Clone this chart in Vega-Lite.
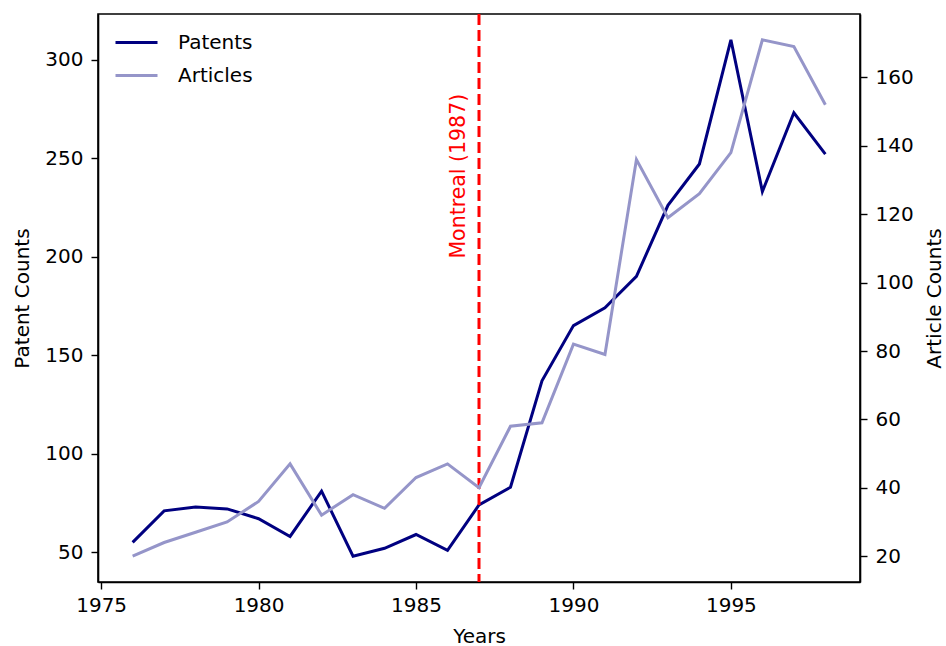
{
  "$schema": "https://vega.github.io/schema/vega-lite/v6.json",
  "width": 762,
  "height": 568,
  "autosize": {"type": "none"},
  "padding": {"left": 98, "top": 14, "right": 86, "bottom": 64},
  "background": "white",
  "config": {
    "view": {"stroke": "black", "strokeWidth": 1.6},
    "font": "DejaVu Sans",
    "axis": {
      "grid": false,
      "domainColor": "black",
      "domainWidth": 1.6,
      "tickColor": "black",
      "tickWidth": 1.4,
      "tickSize": 7,
      "labelColor": "black",
      "titleColor": "black",
      "labelFontSize": 20,
      "titleFontSize": 20,
      "titleFontWeight": "normal",
      "labelFont": "DejaVu Sans",
      "titleFont": "DejaVu Sans"
    }
  },
  "datasets": {
    "series": [
      {"year": 1976, "patents": 55, "articles": 20},
      {"year": 1977, "patents": 71, "articles": 24},
      {"year": 1978, "patents": 73, "articles": 27},
      {"year": 1979, "patents": 72, "articles": 30},
      {"year": 1980, "patents": 67, "articles": 36},
      {"year": 1981, "patents": 58, "articles": 47},
      {"year": 1982, "patents": 81, "articles": 32},
      {"year": 1983, "patents": 48, "articles": 38},
      {"year": 1984, "patents": 52, "articles": 34},
      {"year": 1985, "patents": 59, "articles": 43},
      {"year": 1986, "patents": 51, "articles": 47},
      {"year": 1987, "patents": 74, "articles": 40},
      {"year": 1988, "patents": 83, "articles": 58},
      {"year": 1989, "patents": 137, "articles": 59},
      {"year": 1990, "patents": 165, "articles": 82},
      {"year": 1991, "patents": 174, "articles": 79},
      {"year": 1992, "patents": 190, "articles": 136},
      {"year": 1993, "patents": 226, "articles": 119},
      {"year": 1994, "patents": 247, "articles": 126},
      {"year": 1995, "patents": 310, "articles": 138},
      {"year": 1996, "patents": 233, "articles": 171},
      {"year": 1997, "patents": 273, "articles": 169},
      {"year": 1998, "patents": 252, "articles": 152}
    ],
    "event": [{"year": 1987, "label": "Montreal (1987)", "pos": 199}]
  },
  "encoding": {
    "x": {
      "field": "year",
      "type": "quantitative",
      "scale": {"domain": [1974.9, 1999.1], "nice": false, "zero": false},
      "axis": {"title": "Years", "values": [1975, 1980, 1985, 1990, 1995], "format": "d", "labelPadding": 6, "titlePadding": 11}
    }
  },
  "layer": [
    {
      "layer": [
        {
          "data": {"name": "series"},
          "mark": {"type": "line", "strokeWidth": 3, "clip": true},
          "encoding": {
            "y": {
              "field": "patents",
              "type": "quantitative",
              "scale": {"domain": [34.9, 323.1], "nice": false, "zero": false},
              "axis": {"title": "Patent Counts", "orient": "left", "values": [50, 100, 150, 200, 250, 300], "labelPadding": 8, "titlePadding": 12}
            },
            "color": {
              "datum": "Patents",
              "type": "nominal",
              "scale": {"domain": ["Patents", "Articles"], "range": ["#000080", "#9595c9"]},
              "legend": {
                "title": null,
                "orient": "none",
                "legendX": 16,
                "legendY": 6,
                "symbolType": "stroke",
                "symbolSize": 1764,
                "symbolStrokeWidth": 3,
                "labelFontSize": 20,
                "labelFont": "DejaVu Sans",
                "labelColor": "black",
                "labelOffset": 19,
                "rowPadding": -3,
                "padding": 0
              }
            }
          }
        },
        {
          "data": {"name": "event"},
          "mark": {"type": "rule", "color": "red", "strokeWidth": 3, "strokeDash": [11, 5]},
          "encoding": {}
        },
        {
          "data": {"name": "event"},
          "mark": {"type": "text", "color": "red", "angle": 270, "align": "left", "baseline": "alphabetic", "dy": -14, "fontSize": 20.5, "font": "DejaVu Sans"},
          "encoding": {
            "y": {"field": "pos", "type": "quantitative"},
            "text": {"field": "label"}
          }
        }
      ]
    },
    {
      "data": {"name": "series"},
      "mark": {"type": "line", "strokeWidth": 3, "clip": true},
      "encoding": {
        "y": {
          "field": "articles",
          "type": "quantitative",
          "scale": {"domain": [12.45, 178.55], "nice": false, "zero": false},
          "axis": {"title": "Article Counts", "orient": "right", "titleAngle": 270, "titleBaseline": "top", "values": [20, 40, 60, 80, 100, 120, 140, 160], "labelPadding": 8, "titlePadding": 11}
        },
        "color": {"datum": "Articles", "type": "nominal"}
      }
    }
  ],
  "resolve": {"scale": {"y": "independent"}}
}
